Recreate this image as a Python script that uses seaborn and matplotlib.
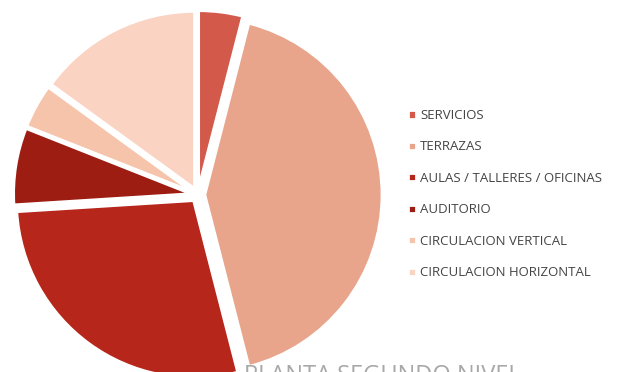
import matplotlib.pyplot as plt
import seaborn as sns

# Datos
categorias = ['SERVICIOS', 'TERRAZAS', 'AULAS / TALLERES / OFICINAS',
              'AUDITORIO', 'CIRCULACION VERTICAL', 'CIRCULACION HORIZONTAL']
porcentajes = [4, 42, 28, 7, 4, 15]
colores = ['#d3594b', '#e8a58c', '#b7261a', '#9e1d12', '#f6c3ab', '#fad3c2']
titulo = 'PLANTA SEGUNDO NIVEL'

sns.set_style("white")
plt.rcParams['font.family'] = ['Open Sans', 'DejaVu Sans']

fig = plt.figure(figsize=(6.18, 3.72), dpi=100)
ax = fig.add_axes([0.0, 0.0, 0.64, 1.0])

wedges, _ = ax.pie(porcentajes,
                   colors=colores,
                   startangle=90,
                   counterclock=False,
                   explode=[0.04] * len(porcentajes),
                   wedgeprops={'edgecolor': 'white', 'linewidth': 2})
ax.set_aspect('equal')
ax.set_xlim(-1.11, 1.11)
ax.set_ylim(-1.0, 1.1)

fig.legend(wedges, categorias,
           loc='center left', bbox_to_anchor=(0.641, 0.478),
           frameon=False, fontsize=9.5, labelcolor='#444444',
           handlelength=0.6, handleheight=0.6, handletextpad=0.3,
           labelspacing=1.4)

fig.text(0.395, -0.01, titulo, fontsize=17, color='#a8a8a8',
         ha='left', va='center')

fig.savefig('out.png', dpi=100)
plt.close(fig)
